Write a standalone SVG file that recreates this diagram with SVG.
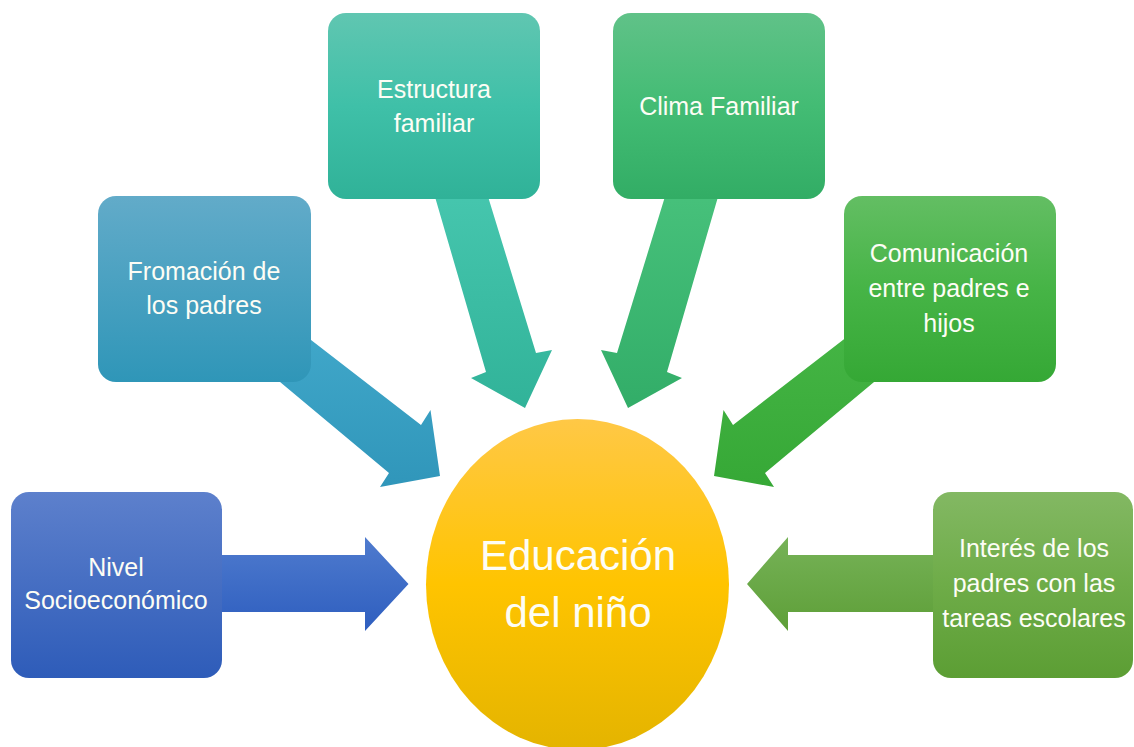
<svg xmlns="http://www.w3.org/2000/svg" width="1134" height="747" viewBox="0 0 1134 747">
<defs>
<linearGradient id="gNivel" x1="0" y1="0" x2="0" y2="1"><stop offset="0" stop-color="#5d80cc"/><stop offset="1" stop-color="#2e5cb9"/></linearGradient>
<linearGradient id="gNivelA" x1="0" y1="0" x2="0" y2="1"><stop offset="0" stop-color="#4f7bce"/><stop offset="1" stop-color="#2e5ebf"/></linearGradient>
<linearGradient id="gFrom" x1="0" y1="0" x2="0" y2="1"><stop offset="0" stop-color="#62abc9"/><stop offset="1" stop-color="#2f96b8"/></linearGradient>
<linearGradient id="gFromA" x1="0" y1="0" x2="0" y2="1"><stop offset="0" stop-color="#42a9cb"/><stop offset="1" stop-color="#3096ba"/></linearGradient>
<linearGradient id="gEst" x1="0" y1="0" x2="0" y2="1"><stop offset="0" stop-color="#60c6b1"/><stop offset="0.5" stop-color="#3fc0a8"/><stop offset="1" stop-color="#30b298"/></linearGradient>
<linearGradient id="gEstA" x1="0" y1="0" x2="0" y2="1"><stop offset="0" stop-color="#46c6ae"/><stop offset="1" stop-color="#31b399"/></linearGradient>
<linearGradient id="gClima" x1="0" y1="0" x2="0" y2="1"><stop offset="0" stop-color="#60c288"/><stop offset="0.5" stop-color="#43bc74"/><stop offset="1" stop-color="#32ad65"/></linearGradient>
<linearGradient id="gClimaA" x1="0" y1="0" x2="0" y2="1"><stop offset="0" stop-color="#47c17b"/><stop offset="1" stop-color="#32ad68"/></linearGradient>
<linearGradient id="gCom" x1="0" y1="0" x2="0" y2="1"><stop offset="0" stop-color="#63be63"/><stop offset="0.5" stop-color="#46b446"/><stop offset="1" stop-color="#35a835"/></linearGradient>
<linearGradient id="gComA" x1="0" y1="0" x2="0" y2="1"><stop offset="0" stop-color="#46b646"/><stop offset="1" stop-color="#36a836"/></linearGradient>
<linearGradient id="gInt" x1="0" y1="0" x2="0" y2="1"><stop offset="0" stop-color="#83b863"/><stop offset="0.5" stop-color="#6eac48"/><stop offset="1" stop-color="#5c9e34"/></linearGradient>
<linearGradient id="gIntA" x1="0" y1="0" x2="0" y2="1"><stop offset="0" stop-color="#76b257"/><stop offset="1" stop-color="#5e9f38"/></linearGradient>
<linearGradient id="gEll" x1="0" y1="0" x2="0" y2="1"><stop offset="0" stop-color="#ffc846"/><stop offset="0.5" stop-color="#ffc400"/><stop offset="1" stop-color="#e4b400"/></linearGradient>
</defs>
<style>
.box{stroke:none}
.lbl{font-family:"Liberation Sans",Arial,sans-serif;font-size:25px;fill:#fdfdf5;text-anchor:middle}
.big{font-family:"Liberation Sans",Arial,sans-serif;font-size:42px;fill:#fdfdf5;text-anchor:middle}
</style>
<rect width="1134" height="747" fill="#ffffff"/>
<g id="connectors">
<polygon fill="url(#gNivelA)" points="200,555 365,555 365,537 408.5,584 365,631 365,612 200,612"/>
<polygon fill="url(#gFromA)" points="280,316 421,425 430.5,410 440,476 380,487 389,473 250,357"/>
<polygon fill="url(#gEstA)" points="433,190 486,190 536,353 552,350 525,408 471,378 486,372"/>
<polygon fill="url(#gClimaA)" points="720,190 667,190 617,353 601,350 628,408 682,378 667,372"/>
<polygon fill="url(#gComA)" points="874,316 733,425 723.5,410 714,476 774,487 765,473 904,357"/>
<polygon fill="url(#gIntA)" points="955,555 788,555 788,537 747,584 788,631 788,612 955,612"/>
</g>
<g id="node-nivel">
<rect class="box" x="11" y="492" width="211" height="186" rx="18" fill="url(#gNivel)"/>
<text class="lbl" x="116" y="576">Nivel</text>
<text class="lbl" x="116" y="609">Socioeconómico</text>
</g>
<g id="node-formacion">
<rect class="box" x="98" y="196" width="213" height="186" rx="18" fill="url(#gFrom)"/>
<text class="lbl" x="204" y="280">Fromación de</text>
<text class="lbl" x="204" y="314">los padres</text>
</g>
<g id="node-estructura">
<rect class="box" x="328" y="13" width="212" height="186" rx="18" fill="url(#gEst)"/>
<text class="lbl" x="434" y="98">Estructura</text>
<text class="lbl" x="434" y="132">familiar</text>
</g>
<g id="node-clima">
<rect class="box" x="613" y="13" width="212" height="186" rx="18" fill="url(#gClima)"/>
<text class="lbl" x="719" y="115">Clima Familiar</text>
</g>
<g id="node-comunicacion">
<rect class="box" x="844" y="196" width="212" height="186" rx="18" fill="url(#gCom)"/>
<text class="lbl" x="949" y="262">Comunicación</text>
<text class="lbl" x="949" y="297">entre padres e</text>
<text class="lbl" x="949" y="332">hijos</text>
</g>
<g id="node-interes">
<rect class="box" x="933" y="492" width="200" height="186" rx="18" fill="url(#gInt)"/>
<text class="lbl" x="1034" y="557">Interés de los</text>
<text class="lbl" x="1034" y="592">padres con las</text>
<text class="lbl" x="1034" y="627">tareas escolares</text>
</g>
<g id="node-educacion">
<ellipse cx="577.5" cy="584.5" rx="151.5" ry="165.5" fill="url(#gEll)"/>
<text class="big" x="578" y="570">Educación</text>
<text class="big" x="578" y="627">del niño</text>
</g>
</svg>
